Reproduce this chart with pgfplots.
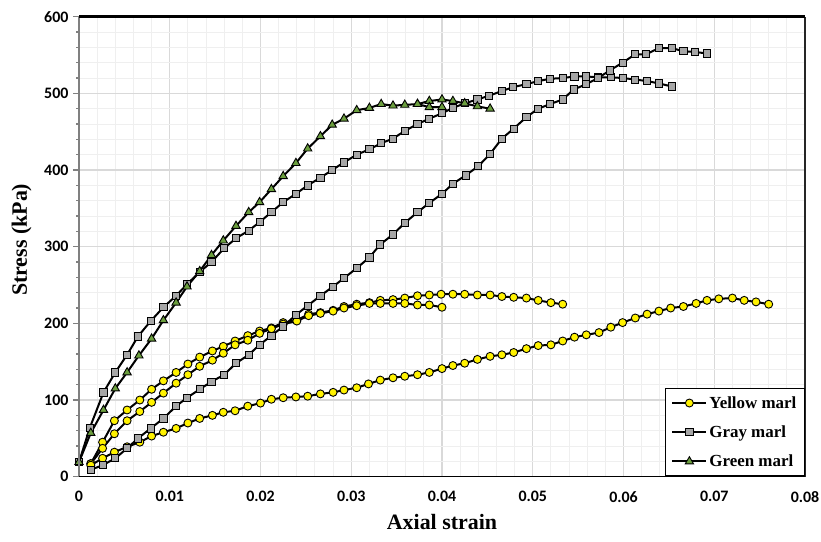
\documentclass[border=0pt]{standalone}
\usepackage{fontspec}
\setmainfont{Liberation Serif}
\newfontfamily\tickfont{Carlito}
\usepackage{pgfplots}
\pgfplotsset{compat=1.18}

\definecolor{markgray}{HTML}{A6A6A6}
\definecolor{markgreen}{HTML}{6B9E3E}
\definecolor{majgrid}{HTML}{D9D9D9}
\definecolor{mingrid}{HTML}{EFEFEF}

\pgfplotsset{
  yel/.style={black, line width=2bp, mark=*, mark size=4bp,
    mark options={solid, fill=yellow, draw=black, line width=0.9bp}},
  gry/.style={black, line width=2bp, mark=square*, mark size=3.6bp,
    mark options={solid, fill=markgray, draw=black, line width=0.9bp}},
  grn/.style={black, line width=2bp, mark=triangle*, mark size=4.8bp,
    mark options={solid, fill=markgreen, draw=black, line width=0.9bp}},
}

\begin{document}
\begin{tikzpicture}[x=1bp,y=1bp]
\useasboundingbox (0,0) rectangle (821,542);
\begin{axis}[
  at={(79bp,65.3bp)}, anchor=south west,
  scale only axis, width=726bp, height=460bp,
  xmin=0, xmax=0.08, ymin=0, ymax=600,
  scaled x ticks=false, scaled y ticks=false,
  xtick={0,0.01,0.02,0.03,0.04,0.05,0.06,0.07,0.08},
  xticklabels={0,0.01,0.02,0.03,0.04,0.05,0.06,0.07,0.08},
  ytick={0,100,200,300,400,500,600},
  yticklabels={0,100,200,300,400,500,600},
  minor x tick num=4, minor y tick num=4,
  grid=both,
  major grid style={draw=majgrid, line width=1.3bp},
  minor grid style={draw=mingrid, line width=1bp},
  axis line style={draw=none},
  tick align=outside, major tick length=6bp,
  xtick pos=bottom, ytick pos=left,
  xtick style={draw=none},
  ytick style={draw=gray, line width=1.2bp},
  minor tick style={draw=none},
  /pgf/number format/assume math mode=true,
  ticklabel style={font=\tickfont\bfseries\fontsize{16}{16}\selectfont},
  xticklabel style={yshift=-5bp},
  yticklabel style={xshift=-1bp},
  xlabel={Axial strain},
  ylabel={Stress (kPa)},
  label style={font=\bfseries\fontsize{22}{22}\selectfont},
  xlabel style={at={(axis description cs:0.5,0)}, anchor=center, yshift=-45bp},
  ylabel style={at={(axis description cs:-0.079,0.515)}, anchor=center},
  clip=false,
  legend style={at={(1,0)}, anchor=south east, draw=black, line width=1.2bp,
    fill=white, font=\bfseries\fontsize{17}{17}\selectfont,
    row sep=12bp, inner xsep=6bp, inner ysep=6bp},
  legend cell align=left,
  legend image code/.code={
    \draw[mark repeat=2, mark phase=2] plot coordinates {(0bp,0bp) (17bp,0bp) (34bp,0bp)};
  },
  after end axis/.code={
    \draw[gray, line width=1.6bp] (rel axis cs:0,0) -- (rel axis cs:0,1);
    \draw[black, line width=1.6bp] (rel axis cs:0,0) -- (rel axis cs:1,0);
    \draw[black!85, line width=2bp] (rel axis cs:1,0) -- (rel axis cs:1,1);
    \draw[black, line width=2.4bp] (rel axis cs:0,1) -- (rel axis cs:1,1);
  },
]
% yellow marl
\addplot[yel] coordinates {
(0.0013,17) (0.0026,45) (0.0039,73) (0.0053,87) (0.0067,100) (0.0080,114) (0.0093,125) (0.0107,136)
(0.0120,147) (0.0133,156) (0.0147,164) (0.0159,170) (0.0172,177) (0.0186,184) (0.0199,190) (0.0212,194)
(0.0225,201) (0.0240,204) (0.0253,212) (0.0266,214) (0.0280,217) (0.0292,222) (0.0306,225) (0.0320,227)
(0.0332,230) (0.0346,231) (0.0359,233) (0.0373,236) (0.0386,237) (0.0399,238) (0.0412,238) (0.0425,238)
(0.0439,237) (0.0453,237) (0.0466,235) (0.0479,234) (0.0493,233) (0.0506,230) (0.0520,227) (0.0533,225)
};
\addlegendentry{Yellow marl}
\addplot[yel, forget plot] coordinates {
(0.0013,17) (0.0026,37) (0.0039,56) (0.0053,73) (0.0067,85) (0.0080,97) (0.0093,109) (0.0107,122)
(0.0120,133) (0.0133,144) (0.0147,152) (0.0159,161) (0.0172,172) (0.0186,178) (0.0199,187) (0.0212,193)
(0.0225,199) (0.0240,203) (0.0253,210) (0.0266,213) (0.0280,216) (0.0292,220) (0.0306,223) (0.0320,226)
(0.0332,226) (0.0346,226) (0.0359,226) (0.0373,224) (0.0386,224) (0.0400,221)
};
\addplot[yel, forget plot] coordinates {
(0.0013,15) (0.0026,24) (0.0039,32) (0.0053,39) (0.0067,45) (0.0080,53) (0.0093,58) (0.0107,63)
(0.0120,70) (0.0133,76) (0.0147,80) (0.0159,84) (0.0172,86) (0.0186,92) (0.0200,96) (0.0212,101)
(0.0225,103) (0.0239,104) (0.0252,105) (0.0266,108) (0.0280,110) (0.0292,113) (0.0306,116) (0.0319,121)
(0.0332,126) (0.0346,129) (0.0359,131) (0.0373,133) (0.0386,136) (0.0400,141) (0.0412,145) (0.0425,148)
(0.0439,153) (0.0453,157) (0.0466,159) (0.0479,162) (0.0493,167) (0.0506,171) (0.0520,172) (0.0533,177)
(0.0546,182) (0.0559,185) (0.0573,188) (0.0586,195) (0.0599,201) (0.0613,207) (0.0626,212) (0.0639,216)
(0.0652,220) (0.0666,222) (0.0680,226) (0.0692,230) (0.0705,232) (0.0720,233) (0.0733,230) (0.0746,228)
(0.0760,225)
};
% gray marl
\addplot[gry] coordinates {
(0,19) (0.0012,64) (0.0027,110) (0.0040,136) (0.0053,159) (0.0065,183) (0.0079,203) (0.0093,221)
(0.0107,236) (0.0119,251) (0.0133,267) (0.0146,280) (0.0160,298) (0.0173,311) (0.0187,321) (0.0199,332)
(0.0212,345) (0.0225,358) (0.0239,369) (0.0252,380) (0.0266,390) (0.0279,400) (0.0292,410) (0.0306,420)
(0.0320,427) (0.0333,435) (0.0346,441) (0.0359,451) (0.0373,460) (0.0386,467) (0.0400,474) (0.0412,481)
(0.0425,487) (0.0439,492) (0.0452,497) (0.0466,503) (0.0478,508) (0.0493,512) (0.0506,516) (0.0519,519)
(0.0533,520) (0.0546,522) (0.0559,522) (0.0572,521) (0.0586,521) (0.0599,520) (0.0613,518) (0.0626,516)
(0.0639,513) (0.0653,509)
};
\addlegendentry{Gray marl}
\addplot[gry, forget plot] coordinates {
(0.0013,9) (0.0026,15) (0.0040,24) (0.0053,37) (0.0065,50) (0.0079,63) (0.0093,76) (0.0107,92)
(0.0119,103) (0.0133,114) (0.0146,124) (0.0160,133) (0.0173,148) (0.0187,159) (0.0199,172) (0.0212,184)
(0.0225,196) (0.0239,211) (0.0252,223) (0.0266,236) (0.0280,248) (0.0292,259) (0.0306,272) (0.0320,286)
(0.0332,303) (0.0346,316) (0.0359,331) (0.0373,345) (0.0386,357) (0.0400,369) (0.0412,382) (0.0426,393)
(0.0440,405) (0.0453,421) (0.0466,441) (0.0479,454) (0.0493,469) (0.0506,480) (0.0519,486) (0.0533,492)
(0.0545,505) (0.0559,512) (0.0572,520) (0.0585,530) (0.0599,540) (0.0613,551) (0.0625,551) (0.0639,559)
(0.0653,559) (0.0666,555) (0.0679,554) (0.0692,552)
};
% green marl
\addplot[grn] coordinates {
(0,19) (0.0013,57) (0.0027,87) (0.0040,115) (0.0053,136) (0.0066,158) (0.0080,180) (0.0093,204)
(0.0107,227) (0.0119,248) (0.0133,268) (0.0146,289) (0.0159,308) (0.0173,327) (0.0187,345) (0.0199,358)
(0.0212,375) (0.0225,392) (0.0239,409) (0.0252,428) (0.0266,444) (0.0279,459) (0.0292,467) (0.0306,478)
(0.0320,481) (0.0333,486) (0.0346,484) (0.0359,485) (0.0373,486) (0.0386,490) (0.0400,492) (0.0412,490)
(0.0425,487) (0.0439,483) (0.0453,480)
};
\addlegendentry{Green marl}
\addplot[grn, forget plot] coordinates {
(0.0373,486) (0.0386,482) (0.0400,482)
};
\end{axis}
\end{tikzpicture}
\end{document}
